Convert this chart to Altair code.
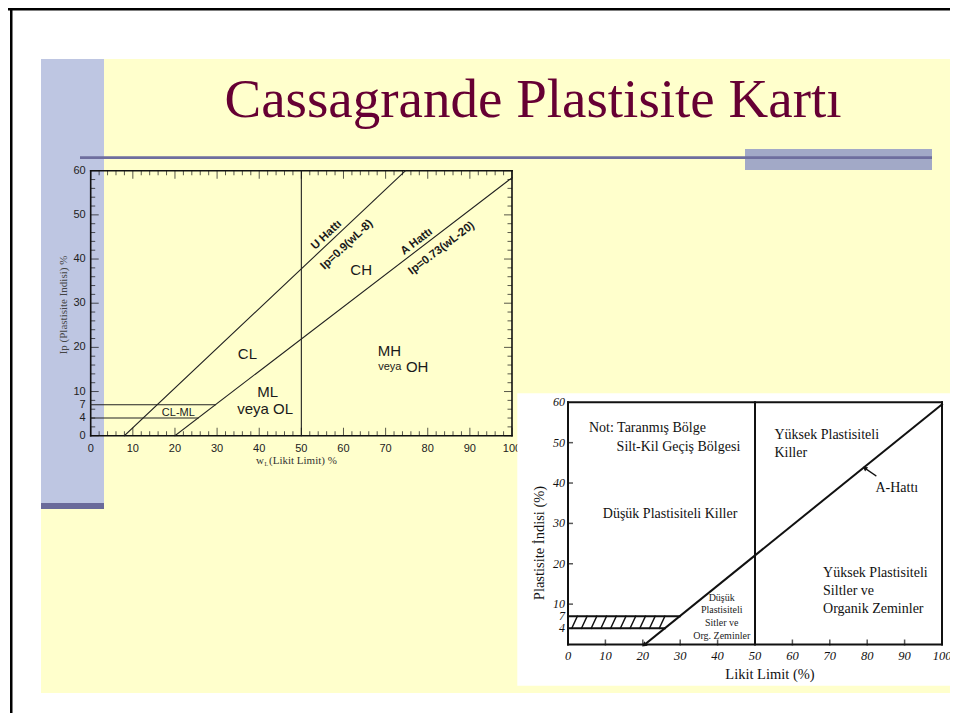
import altair as alt
import pandas as pd

W, H = 942, 705

# ---------------- data: chart 1 (Casagrande chart, top-left) ----------------
c1_x_major = [0, 10, 20, 30, 40, 50, 60, 70, 80, 90, 100]
c1_x_minor = [v for v in range(0, 101, 2) if v % 10]
c1_y_major = [0, 10, 20, 30, 40, 50, 60]
c1_y_minor = [v for v in range(0, 61, 2) if v % 10]
c1_x_labels = [0, 10, 20, 30, 40, 50, 60, 70, 80, 90, 100]
c1_y_labels = [0, 4, 7, 10, 20, 30, 40, 50, 60]

# frame of chart 1
c1_frame_x1 = [0, 0, 0, 100]
c1_frame_y1 = [0, 0, 60, 0]
c1_frame_x2 = [100, 0, 100, 100]
c1_frame_y2 = [0, 60, 60, 60]
# U line, A line, wL=50, CL-ML band limits
c1_line_x1 = [8, 20, 50, 0, 0]
c1_line_y1 = [0, 0, 0, 7, 4]
c1_line_x2 = [74.7, 100, 50, 29.6, 25.5]
c1_line_y2 = [60, 58.4, 60, 7, 4]

c1_big_text = ["CL", "ML", "veya OL", "CH", "MH", "OH"]
c1_big_x = [37.2, 42.0, 41.4, 64.2, 70.9, 77.5]
c1_big_y = [18.5, 10.0, 6.0, 37.5, 19.2, 15.6]
c1_small_text = ["CL-ML", "veya"]
c1_small_x = [20.8, 71.0]
c1_small_y = [5.2, 15.5]
c1_u_text = ["U Hattı", "Ip=0.9(wL-8)"]
c1_u_x = [56.0, 60.8]
c1_u_y = [45.4, 43.2]
c1_a_text = ["A Hattı", "Ip=0.73(wL-20)"]
c1_a_x = [77.4, 83.3]
c1_a_y = [43.9, 42.4]

# ---------------- data: chart 2 (bottom-right) ----------------
c2_x_labels = [0, 10, 20, 30, 40, 50, 60, 70, 80, 90, 100]
c2_y_labels = [4, 7, 10, 20, 30, 40, 50, 60]
c2_x_ticks = [10, 20, 30, 40, 60, 70, 80, 90]
c2_y_ticks = [10, 20, 30, 40, 50]

c2_seg_x1 = [0, 0, 0, 100, 50, 20.5, 0, 0]
c2_seg_y1 = [0, 0, 60, 0, 0, 0, 4, 7]
c2_seg_x2 = [100, 0, 100, 100, 50, 100, 25.9, 29.9]
c2_seg_y2 = [0, 60, 60, 60, 60, 59.5, 4, 7]

c2_hatch_x1 = [1.0 + 2.6 * k for k in range(10)]
c2_hatch_y1 = [4] * 10
c2_hatch_x2 = [v + 1.5 for v in c2_hatch_x1]
c2_hatch_y2 = [7] * 10

c2_arrow_x1 = [82.3]
c2_arrow_y1 = [41.8]
c2_arrow_x2 = [79.5]
c2_arrow_y2 = [43.6]

c2_left_text = ["Not: Taranmış Bölge", "Silt-Kil Geçiş Bölgesi", "Düşük Plastisiteli Killer",
                "Yüksek Plastisiteli", "Killer", "A-Hattı",
                "Yüksek Plastisiteli", "Siltler ve", "Organik Zeminler"]
c2_left_x = [5.6, 13.0, 9.3, 55.2, 55.2, 82.2, 68.2, 68.2, 68.2]
c2_left_y = [53.6, 48.9, 32.3, 51.9, 47.4, 38.8, 17.7, 13.3, 8.8]
c2_small_text = ["Düşük", "Plastisiteli", "Sitler ve", "Org. Zeminler"]
c2_small_x = [41.1, 41.1, 41.1, 41.1]
c2_small_y = [11.5, 8.5, 5.3, 2.1]

# ---------------- scales (pixel ranges inside the single canvas) ----------------
S1X = alt.Scale(domain=[0, 100], range=[82.7, 504], nice=False, zero=False)
S1Y = alt.Scale(domain=[0, 60], range=[427.7, 162.7], nice=False, zero=False)
S2X = alt.Scale(domain=[0, 100], range=[560, 934], nice=False, zero=False)
S2Y = alt.Scale(domain=[0, 60], range=[636.5, 394.3], nice=False, zero=False)

ONE = pd.DataFrame({"k": [0]})
SANS = "Liberation Sans"
SERIF = "Liberation Serif"


def deco_rect(x, x2, y, y2, color):
    return alt.Chart(ONE).mark_rect(color=color).encode(
        x=alt.value(x), x2=alt.value(x2), y=alt.value(y), y2=alt.value(y2))


def deco_text(x, y, text, **props):
    return alt.Chart(ONE).mark_text(text=text, **props).encode(
        x=alt.value(x), y=alt.value(y))


def segs(x1, y1, x2, y2, sx, sy, width, color="#111111"):
    df = pd.DataFrame({"x": x1, "y": y1, "x2": x2, "y2": y2})
    return alt.Chart(df).mark_rule(strokeWidth=width, color=color, strokeCap="square").encode(
        x=alt.X("x:Q", scale=sx, axis=None), y=alt.Y("y:Q", scale=sy, axis=None),
        x2="x2:Q", y2="y2:Q")


def ticks(vals, fixed, along, sx, sy, length, offset, width=1.0):
    if along == "x":
        df = pd.DataFrame({"x": vals, "y": [fixed] * len(vals)})
        mk = alt.Chart(df).mark_tick(orient="vertical", size=length, thickness=width,
                                     yOffset=offset, color="#111111")
    else:
        df = pd.DataFrame({"y": vals, "x": [fixed] * len(vals)})
        mk = alt.Chart(df).mark_tick(orient="horizontal", size=length, thickness=width,
                                     xOffset=offset, color="#111111")
    return mk.encode(x=alt.X("x:Q", scale=sx, axis=None), y=alt.Y("y:Q", scale=sy, axis=None))


def texts(xs, ys, labels, sx, sy, **props):
    df = pd.DataFrame({"x": xs, "y": ys, "t": [str(v) for v in labels]})
    return alt.Chart(df).mark_text(**props).encode(
        x=alt.X("x:Q", scale=sx, axis=None), y=alt.Y("y:Q", scale=sy, axis=None),
        text="t:N")


layers = []
# ---------------- slide decoration ----------------
layers.append(deco_rect(33, 942, 51, 685, "#FFFFCC"))
layers.append(deco_rect(0, 942, 0, 2.5, "#000000"))
layers.append(deco_rect(2, 4.5, 0, 705, "#000000"))
layers.append(deco_rect(33, 96, 51, 495, "#BEC6E2"))
layers.append(deco_rect(33, 96, 495, 501, "#6A6A9A"))
layers.append(deco_rect(737, 924, 141, 162, "#A2A9C7"))
layers.append(deco_rect(72, 924, 148.3, 151, "#6E6E9E"))
layers.append(deco_text(525, 109, "Cassagrande Plastisite Kartı", font=SERIF, fontSize=55,
                        color="#660033", align="center", baseline="alphabetic"))

# ---------------- chart 1 ----------------
layers.append(segs(c1_frame_x1, c1_frame_y1, c1_frame_x2, c1_frame_y2, S1X, S1Y, 1.6))
layers.append(segs(c1_line_x1, c1_line_y1, c1_line_x2, c1_line_y2, S1X, S1Y, 1.1, "#222222"))
layers.append(ticks(c1_x_major, 0, "x", S1X, S1Y, 8, -4))
layers.append(ticks(c1_x_minor, 0, "x", S1X, S1Y, 4.5, -2.25))
layers.append(ticks(c1_x_major, 60, "x", S1X, S1Y, 8, 4))
layers.append(ticks(c1_x_minor, 60, "x", S1X, S1Y, 4.5, 2.25))
layers.append(ticks(c1_y_major, 0, "y", S1X, S1Y, 8, 4))
layers.append(ticks(c1_y_minor, 0, "y", S1X, S1Y, 4.5, 2.25))
layers.append(ticks(c1_y_major, 100, "y", S1X, S1Y, 8, -4))
layers.append(ticks(c1_y_minor, 100, "y", S1X, S1Y, 4.5, -2.25))
layers.append(texts(c1_x_labels, [0] * len(c1_x_labels), c1_x_labels, S1X, S1Y,
                    font=SANS, fontSize=11, color="#222222", align="center",
                    baseline="middle", dy=13))
layers.append(texts([0] * len(c1_y_labels), c1_y_labels, c1_y_labels, S1X, S1Y,
                    font=SANS, fontSize=11, color="#222222", align="right",
                    baseline="middle", dx=-5))
layers.append(texts(c1_big_x, c1_big_y, c1_big_text, S1X, S1Y, font=SANS, fontSize=15,
                    color="#1A1A1A", align="center", baseline="middle"))
layers.append(texts(c1_small_x, c1_small_y, c1_small_text, S1X, S1Y, font=SANS, fontSize=11,
                    color="#1A1A1A", align="center", baseline="middle"))
layers.append(texts(c1_u_x, c1_u_y, c1_u_text, S1X, S1Y, font=SANS, fontSize=11.5,
                    fontWeight="bold", color="#1A1A1A", align="center", baseline="middle",
                    angle=316.7))
layers.append(texts(c1_a_x, c1_a_y, c1_a_text, S1X, S1Y, font=SANS, fontSize=11.5,
                    fontWeight="bold", color="#1A1A1A", align="center", baseline="middle",
                    angle=322.6))
layers.append(deco_text(56, 297, "Ip (Plastisite Indisi) %", font=SERIF, fontSize=11,
                        color="#444444", align="center", baseline="middle", angle=270))
layers.append(deco_text(256, 453, "w", font=SERIF, fontSize=11, color="#333333",
                        align="right", baseline="middle"))
layers.append(deco_text(256.5, 456, "L", font=SERIF, fontSize=6, color="#333333",
                        align="left", baseline="middle"))
layers.append(deco_text(261, 453, "(Likit Limit) %", font=SERIF, fontSize=11,
                        color="#333333", align="left", baseline="middle"))

# ---------------- chart 2 ----------------
layers.append(deco_rect(509.3, 942, 385.3, 677.7, "#FFFFFF"))
layers.append(segs(c2_seg_x1, c2_seg_y1, c2_seg_x2, c2_seg_y2, S2X, S2Y, 2.0))
layers.append(segs(c2_hatch_x1, c2_hatch_y1, c2_hatch_x2, c2_hatch_y2, S2X, S2Y, 1.4))
layers.append(segs(c2_arrow_x1, c2_arrow_y1, c2_arrow_x2, c2_arrow_y2, S2X, S2Y, 1.3))
layers.append(alt.Chart(pd.DataFrame({"x": c2_arrow_x2, "y": c2_arrow_y2})).mark_point(
    shape="triangle", filled=True, size=28, angle=304, color="#111111", opacity=1).encode(
    x=alt.X("x:Q", scale=S2X, axis=None), y=alt.Y("y:Q", scale=S2Y, axis=None)))
layers.append(alt.Chart(pd.DataFrame({"x": [20.5], "y": [0]})).mark_point(
    shape="triangle", filled=True, size=30, angle=232, color="#111111", opacity=1).encode(
    x=alt.X("x:Q", scale=S2X, axis=None), y=alt.Y("y:Q", scale=S2Y, axis=None)))
layers.append(ticks(c2_x_ticks, 0, "x", S2X, S2Y, 6, -2, 1.5))
layers.append(ticks(c2_y_ticks, 0, "y", S2X, S2Y, 6, 2, 1.5))
layers.append(texts(c2_x_labels, [0] * len(c2_x_labels), c2_x_labels, S2X, S2Y,
                    font=SERIF, fontSize=12.5, fontStyle="italic", color="#111111",
                    align="center", baseline="middle", dy=11))
layers.append(texts([0] * len(c2_y_labels), c2_y_labels, c2_y_labels, S2X, S2Y,
                    font=SERIF, fontSize=12, fontStyle="italic", color="#111111",
                    align="right", baseline="middle", dx=-3))
layers.append(texts(c2_left_x, c2_left_y, c2_left_text, S2X, S2Y, font=SERIF, fontSize=14,
                    color="#111111", align="left", baseline="middle"))
layers.append(texts(c2_small_x, c2_small_y, c2_small_text, S2X, S2Y, font=SERIF,
                    fontSize=10, color="#222222", align="center", baseline="middle"))
layers.append(deco_text(532, 535, "Plastisite İndisi (%)", font=SERIF, fontSize=14.5,
                        color="#111111", align="center", baseline="middle", angle=270))
layers.append(deco_text(762, 667, "Likit Limit (%)", font=SERIF, fontSize=14.5,
                        color="#111111", align="center", baseline="middle"))

chart = alt.layer(*layers).resolve_scale(x="independent", y="independent").properties(
    width=W, height=H, padding=0, autosize=alt.AutoSizeParams(type="none")
).configure_view(stroke=None)

chart.save("out.html", embed_options={"renderer": "svg", "actions": False})
